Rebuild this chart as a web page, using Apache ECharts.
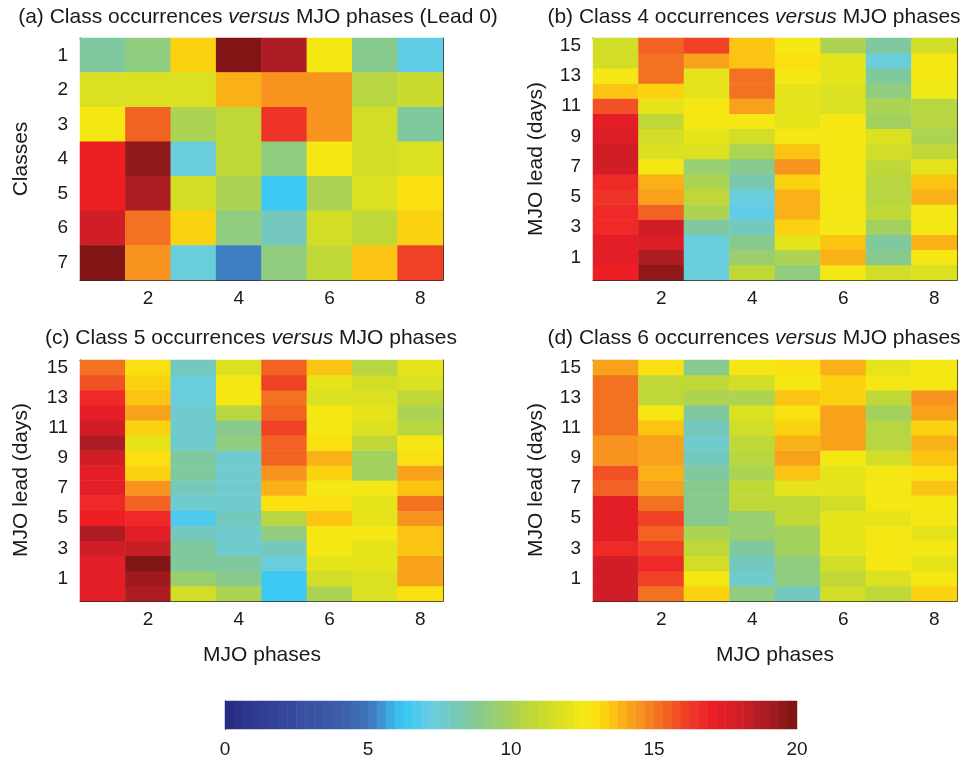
<!DOCTYPE html>
<html><head><meta charset="utf-8">
<script src="https://cdn.jsdelivr.net/npm/echarts@6/dist/echarts.min.js"></script>
<style>html,body{margin:0;padding:0;background:#fff}#c{width:966px;height:762px}</style>
</head><body><div id="c"></div>
<script>
// ---------------- DATA ----------------
const phases = ['1','2','3','4','5','6','7','8'];
const classes = ['1','2','3','4','5','6','7'];
const leads = ['0','1','2','3','4','5','6','7','8','9','10','11','12','13','14','15'];
const colorbarTicks = [0, 5, 10, 15, 20];

// (a) rows = classes 1..7, columns = MJO phases 1..8 (lead 0)
const classVsPhase = [
  [8.6, 9.1, 13.4, 19.9, 18.8, 12.5, 8.9, 7.0],
  [11.8, 11.8, 11.8, 13.9, 14.6, 14.6, 10.5, 11.0],
  [12.5, 15.5, 10.0, 10.9, 16.4, 14.4, 11.3, 8.6],
  [17.0, 19.4, 7.2, 10.9, 9.3, 12.5, 11.3, 11.8],
  [17.1, 18.9, 11.3, 10.2, 6.3, 10.2, 11.8, 13.0],
  [18.0, 15.1, 13.4, 9.1, 8.1, 11.3, 10.9, 13.4],
  [19.9, 14.6, 7.2, 5.3, 9.1, 10.9, 13.7, 16.0]
];
// (b) class 4: rows = lead 0..15, columns = phases 1..8
const class4 = [
  [17.1, 19.5, 7.2, 10.9, 9.1, 12.7, 11.3, 11.8],
  [17.2, 18.8, 7.2, 9.4, 10.0, 14.0, 8.8, 12.7],
  [17.2, 17.5, 7.2, 8.8, 12.0, 13.5, 8.6, 13.9],
  [16.8, 18.0, 8.6, 8.0, 13.4, 12.5, 9.8, 12.7],
  [16.8, 15.5, 10.0, 7.0, 13.8, 12.7, 10.9, 12.7],
  [16.3, 14.3, 10.9, 7.2, 13.9, 12.5, 10.5, 14.0],
  [16.7, 14.0, 10.0, 8.2, 13.4, 12.5, 10.5, 13.5],
  [18.0, 12.7, 9.5, 8.9, 14.6, 12.5, 10.9, 12.0],
  [18.0, 11.8, 11.8, 10.0, 13.5, 12.7, 11.3, 10.9],
  [17.5, 11.3, 12.1, 11.3, 12.7, 12.5, 11.8, 10.1],
  [17.2, 10.9, 12.7, 12.7, 12.1, 12.5, 9.8, 10.5],
  [15.9, 12.0, 12.7, 14.2, 12.1, 11.8, 10.0, 10.5],
  [13.7, 13.4, 12.0, 15.2, 12.1, 11.8, 9.3, 12.4],
  [12.5, 15.0, 12.0, 15.0, 12.5, 12.0, 8.6, 12.7],
  [11.3, 15.0, 14.1, 13.6, 13.1, 12.0, 7.2, 12.7],
  [11.3, 15.5, 16.0, 13.6, 12.6, 10.0, 8.6, 11.5]
];
// (c) class 5
const class5 = [
  [17.2, 18.9, 11.3, 10.0, 6.3, 10.0, 11.8, 13.1],
  [17.2, 19.3, 9.5, 8.9, 6.3, 11.3, 11.8, 14.3],
  [17.2, 19.8, 8.6, 8.6, 7.2, 12.1, 12.1, 14.3],
  [18.0, 18.4, 8.6, 7.5, 8.1, 12.7, 12.1, 13.7],
  [18.8, 17.2, 8.0, 7.5, 9.3, 12.7, 12.7, 13.5],
  [17.1, 16.7, 6.8, 8.0, 10.5, 13.5, 12.1, 14.6],
  [16.7, 15.5, 7.5, 7.5, 13.1, 13.1, 12.1, 15.0],
  [17.2, 14.6, 8.0, 7.5, 13.9, 12.7, 12.5, 13.5],
  [17.2, 13.4, 8.6, 7.8, 14.6, 13.4, 9.8, 14.3],
  [18.0, 13.1, 8.6, 7.5, 15.5, 14.0, 9.8, 13.1],
  [18.8, 12.0, 7.8, 9.3, 15.5, 13.1, 10.9, 12.5],
  [18.0, 13.4, 7.8, 8.9, 16.0, 12.5, 11.8, 10.5],
  [17.2, 14.3, 7.5, 10.5, 15.5, 12.5, 12.1, 10.0],
  [16.7, 13.6, 7.2, 12.7, 15.1, 11.8, 11.8, 10.9],
  [15.9, 13.4, 7.2, 12.5, 16.0, 12.0, 11.3, 11.8],
  [15.1, 13.1, 8.0, 11.8, 15.5, 13.6, 10.5, 12.0]
];
// (d) class 6
const class6 = [
  [18.0, 15.1, 13.4, 9.1, 8.0, 11.3, 10.9, 13.4],
  [18.0, 16.0, 12.5, 7.5, 9.1, 10.9, 11.8, 12.5],
  [18.0, 16.7, 11.3, 8.0, 9.1, 11.3, 12.5, 12.1],
  [16.8, 16.0, 10.9, 8.6, 9.8, 12.1, 12.5, 12.5],
  [17.2, 15.5, 10.0, 9.5, 9.8, 12.1, 12.7, 12.1],
  [17.2, 16.0, 8.8, 9.5, 10.9, 12.1, 12.0, 12.5],
  [17.2, 15.0, 8.9, 10.9, 10.9, 11.3, 12.7, 12.7],
  [15.5, 14.3, 8.9, 10.9, 12.1, 12.0, 12.7, 13.5],
  [15.9, 13.9, 8.6, 10.3, 13.7, 12.0, 12.7, 13.1],
  [14.6, 14.2, 8.0, 10.5, 14.3, 12.5, 11.3, 13.7],
  [14.6, 14.2, 7.5, 10.9, 14.0, 14.2, 10.5, 14.0],
  [15.0, 13.7, 8.0, 11.3, 13.4, 14.3, 10.5, 13.4],
  [15.1, 12.5, 8.6, 11.8, 13.1, 14.3, 9.8, 14.3],
  [15.1, 10.9, 10.0, 10.0, 13.7, 13.4, 10.9, 14.6],
  [15.1, 10.9, 10.9, 11.3, 12.7, 13.4, 12.5, 12.7],
  [14.2, 13.1, 8.8, 12.5, 13.1, 13.8, 12.0, 12.5]
];

// ---------------- COLOR SCALE ----------------
const cmapStops = [
  [0,'#262a80'],[1,'#2e3a8f'],[2,'#34469a'],[3,'#3a52a2'],[4,'#3c5ea8'],[5,'#3d74b8'],
  [5.5,'#4094d4'],[6,'#3cbcec'],[6.3,'#38c8f4'],[7,'#60cce6'],[7.5,'#6ecdd6'],[8,'#74c8bc'],
  [8.5,'#7ec8a4'],[9,'#8acb88'],[9.5,'#98cf70'],[10,'#a6d258'],[10.5,'#b8d640'],[11,'#c6da30'],
  [11.5,'#d4de24'],[12,'#e4e41a'],[12.5,'#f2ea14'],[13,'#fadf10'],[13.5,'#fcc810'],[14,'#f9ac18'],
  [14.5,'#f7951e'],[15,'#f47a20'],[15.5,'#f26022'],[16,'#f04526'],[16.5,'#ee3028'],[17,'#ee1f25'],
  [17.5,'#e01e26'],[18,'#d01e26'],[18.5,'#bc1e24'],[19,'#a81b22'],[19.5,'#901818'],[20,'#7a1414']
];
const NBINS = 64, VMIN = 0, VMAX = 20;
function hex2rgb(h){return [parseInt(h.substr(1,2),16),parseInt(h.substr(3,2),16),parseInt(h.substr(5,2),16)];}
function cmap(v){
  for (let i=0;i<cmapStops.length-1;i++){
    const a=cmapStops[i], b=cmapStops[i+1];
    if (v>=a[0] && v<=b[0]){
      const t=(v-a[0])/(b[0]-a[0]); const ca=hex2rgb(a[1]), cb=hex2rgb(b[1]);
      return 'rgb('+ca.map((c,k)=>Math.round(c+(cb[k]-c)*t)).join(',')+')';
    }
  }
  return cmapStops[cmapStops.length-1][1];
}
const step=(VMAX-VMIN)/NBINS;
const pieces=[]; const binCats=[]; const binData=[];
for (let i=0;i<NBINS;i++){
  const lo=VMIN+i*step, hi=lo+step, c=cmap(lo+step/2);
  const p={gte:lo,color:c}; if(i===NBINS-1) p.lte=hi; else p.lt=hi;
  pieces.push(p); binCats.push(String(i)); binData.push([i,0,lo+step/2]);
}

// ---------------- LAYOUT ----------------
const TXT='#1a1a1a', FONT='Liberation Sans', FS=19, TFS=21;
const panels=[
  {rect:{left:80,top:38,width:363,height:242}, y:classes, inverse:true, yInt:()=>true, data:classVsPhase},
  {rect:{left:593,top:38,width:364,height:242}, y:leads, inverse:false, yInt:(i)=>i%2===1, data:class4},
  {rect:{left:80,top:360,width:363,height:241}, y:leads, inverse:false, yInt:(i)=>i%2===1, data:class5},
  {rect:{left:593,top:360,width:364,height:241}, y:leads, inverse:false, yInt:(i)=>i%2===1, data:class6}
];
const grid=[], xAxis=[], yAxis=[], series=[];
const lineStyle={color:'#2b2b2b',width:1};
const xInt=(i)=>i%2===1;
panels.forEach((p,gi)=>{
  grid.push(Object.assign({containLabel:false},p.rect));
  const base=xAxis.length, ybase=yAxis.length;
  xAxis.push({gridIndex:gi,type:'category',data:phases,position:'bottom',
    axisLine:{lineStyle},axisTick:{inside:true,alignWithLabel:true,interval:xInt,length:5,lineStyle},
    axisLabel:{interval:xInt,color:TXT,fontSize:FS,fontFamily:FONT,margin:9},splitLine:{show:false}});
  xAxis.push({gridIndex:gi,type:'category',data:phases,position:'top',
    axisLine:{lineStyle},axisTick:{inside:true,alignWithLabel:true,interval:xInt,length:5,lineStyle},
    axisLabel:{show:false},splitLine:{show:false}});
  yAxis.push({gridIndex:gi,type:'category',data:p.y,inverse:p.inverse,position:'left',
    axisLine:{lineStyle},axisTick:{inside:true,alignWithLabel:true,interval:p.yInt,length:5,lineStyle},
    axisLabel:{interval:p.yInt,color:TXT,fontSize:FS,fontFamily:FONT,margin:12},splitLine:{show:false}});
  yAxis.push({gridIndex:gi,type:'category',data:p.y,inverse:p.inverse,position:'right',
    axisLine:{lineStyle},axisTick:{inside:true,alignWithLabel:true,interval:p.yInt,length:5,lineStyle},
    axisLabel:{show:false},splitLine:{show:false}});
  const d=[];
  p.data.forEach((row,r)=>row.forEach((v,c)=>d.push([c,r,v])));
  series.push({type:'heatmap',xAxisIndex:base,yAxisIndex:ybase,data:d,emphasis:{disabled:true},progressive:0,animation:false});
});
// colorbar
const cg=grid.length;
grid.push({left:225,top:701,width:572,height:28});
const cbx=xAxis.length, cby=yAxis.length;
xAxis.push({gridIndex:cg,type:'category',data:binCats,show:false});
xAxis.push({gridIndex:cg,type:'value',min:0,max:20,interval:5,position:'bottom',
  axisLine:{lineStyle},axisTick:{inside:true,length:5,lineStyle},splitLine:{show:false},
  axisLabel:{color:TXT,fontSize:FS,fontFamily:FONT,margin:11,formatter:(v)=>colorbarTicks.includes(v)?String(v):''}});
xAxis.push({gridIndex:cg,type:'value',min:0,max:20,interval:5,position:'top',
  axisLine:{lineStyle},axisTick:{inside:true,length:5,lineStyle},splitLine:{show:false},axisLabel:{show:false}});
yAxis.push({gridIndex:cg,type:'category',data:['c'],position:'left',axisLine:{lineStyle},axisTick:{show:false},axisLabel:{show:false}});
yAxis.push({gridIndex:cg,type:'category',data:['c'],position:'right',axisLine:{lineStyle},axisTick:{show:false},axisLabel:{show:false}});
series.push({type:'heatmap',xAxisIndex:cbx,yAxisIndex:cby,data:binData,emphasis:{disabled:true},progressive:0,animation:false});

function txt(x,y,text,opts){
  return Object.assign({type:'text',x:x,y:y,silent:true,style:{text:text,fill:TXT,fontSize:TFS,fontFamily:FONT,
    align:'center',verticalAlign:'middle',
    rich:{i:{fontStyle:'italic',fontSize:TFS,fontFamily:FONT,fill:TXT}}}},opts||{});
}
const graphic=[
  txt(258,17,'(a) Class occurrences {i|versus} MJO phases (Lead 0)'),
  txt(754,17,'(b) Class 4 occurrences {i|versus} MJO phases'),
  txt(251,338,'(c) Class 5 occurrences {i|versus} MJO phases'),
  txt(754,338,'(d) Class 6 occurrences {i|versus} MJO phases'),
  txt(21,159,'Classes',{rotation:Math.PI/2}),
  txt(536,159,'MJO lead (days)',{rotation:Math.PI/2}),
  txt(21,480,'MJO lead (days)',{rotation:Math.PI/2}),
  txt(536,480,'MJO lead (days)',{rotation:Math.PI/2}),
  txt(262,655,'MJO phases'),
  txt(775,655,'MJO phases')
];

const chart=echarts.init(document.getElementById('c'),null,{renderer:'canvas'});
chart.setOption({
  animation:false,
  backgroundColor:'#ffffff',
  grid:grid, xAxis:xAxis, yAxis:yAxis, series:series, graphic:graphic,
  visualMap:{type:'piecewise',show:false,pieces:pieces,seriesIndex:series.map((s,i)=>i)}
});
</script></body></html>
